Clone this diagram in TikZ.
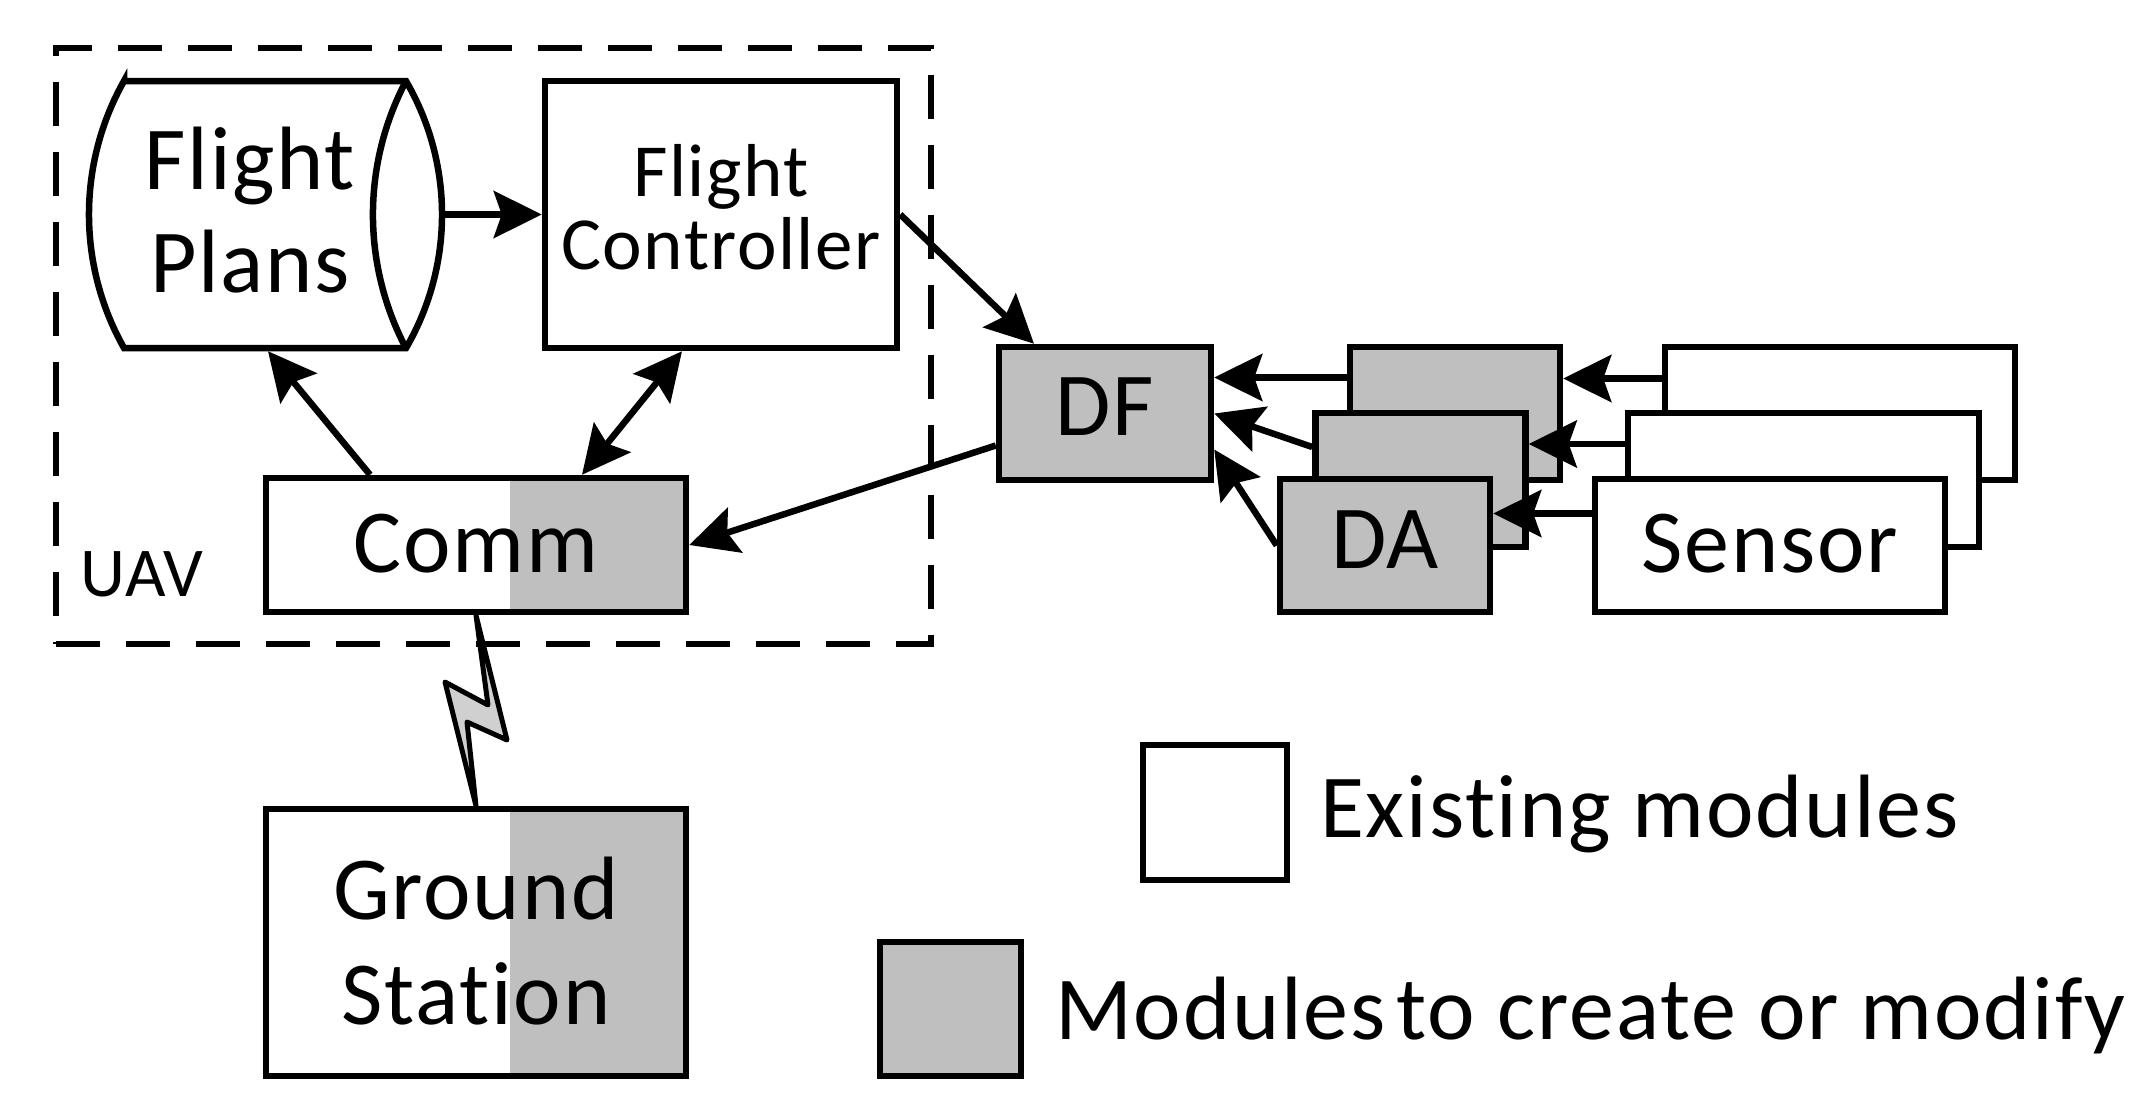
\documentclass[tikz,border=0pt]{standalone}
\usepackage{fontspec}
\setmainfont{Carlito}[Ligatures=NoCommon,LetterSpace=2]
\usetikzlibrary{arrows.meta,calc}
\definecolor{modgray}{RGB}{191,191,191}
\definecolor{boltgray}{RGB}{208,208,208}
\begin{document}
\begin{tikzpicture}[x=1pt,y=-1pt,
  every node/.style={inner sep=0pt},
  box/.style={draw,line width=6.5pt,fill=white,rectangle},
  graybox/.style={box,fill=modgray},
  halfgray/.style={path picture={\fill[modgray] ($(path picture bounding box.south west)!0.581!(path picture bounding box.south east)$) rectangle (path picture bounding box.north east);}},
  lbl/.style={anchor=base,font=\fontsize{90}{103}\selectfont},
  slbl/.style={anchor=base,font=\fontsize{75}{80}\selectfont},
  tip/.tip={Stealth[length=48pt,width=47pt,inset=8pt]},
  arr/.style={line width=6.5pt,-tip},
  darr/.style={line width=6.5pt,tip-tip}]
\useasboundingbox[fill=white] (0,0) rectangle (2145,1112);

% UAV frame
\node[draw,line width=6pt,dash pattern=on 44pt off 26pt,minimum width=875pt,minimum height=596pt] (uav) at (493.5,346) {};
\node[anchor=base west,font=\fontsize{70}{80}\selectfont] (uavtxt) at (80,596) {UAV};

% Flight plans (cylinder)
\node[minimum width=353pt,minimum height=267pt] (fp) at (265.5,214.5) {};
\draw[line width=6.5pt,fill=white,line join=miter]
  (124,81) -- (406,81) arc[start angle=30.2,end angle=-30.2,radius=265.5pt]
  -- (124,348) arc[start angle=209.4,end angle=150.6,radius=272pt] -- cycle;
\draw[line width=6.5pt] (406,81) arc[start angle=152.2,end angle=207.8,radius=286.5pt];
\node[lbl] (fptxt1) at (250,189) {Flight};
\node[lbl] (fptxt2) at (250,292) {Plans};

% Flight controller
\node[box,minimum width=352pt,minimum height=267pt] (fc) at (721,214.5) {};
\node[slbl] (fctxt1) at (721,196) {Flight};
\node[slbl] (fctxt2) at (721,269) {Controller};

% Comm
\node[box,halfgray,minimum width=420pt,minimum height=134pt] (comm) at (476,545) {};
\node[lbl] (commtxt) at (476,572) {Comm};

% Ground station
\node[box,halfgray,minimum width=420pt,minimum height=267pt] (gs) at (476,942.5) {};
\node[lbl] (gstxt1) at (476,919) {Ground};
\node[lbl] (gstxt2) at (476,1024) {Station};

% DF
\node[graybox,minimum width=212pt,minimum height=133pt] (df) at (1105,413.5) {};
\node[lbl] (dftxt) at (1105,435) {DF};

% DA stack
\node[graybox,minimum width=210pt,minimum height=133pt] (db) at (1455,413.5) {};
\node[graybox,minimum width=210pt,minimum height=134pt] (dm) at (1420.5,480) {};
\node[graybox,minimum width=210pt,minimum height=133pt] (da) at (1385,545.5) {};
\node[lbl] (datxt) at (1385,568) {DA};

% Sensor stack
\node[box,minimum width=350pt,minimum height=133pt] (sb) at (1840,413.5) {};
\node[box,minimum width=351pt,minimum height=134pt] (sm) at (1803.5,480) {};
\node[box,minimum width=350pt,minimum height=133pt] (sf) at (1770,545.5) {};
\node[lbl] (sftxt) at (1770,572) {Sensor};

% connectors
\draw[arr] (fp.east) -- (fc.west);
\draw[arr] ([xshift=-106pt]comm.north) -- ([xshift=2.5pt,yshift=-3pt]fp.south);
\draw[darr] ([xshift=106pt]comm.north) -- ([xshift=-39pt]fc.south);
\draw[arr] (fc.east) -- ([xshift=-71pt]df.north);
\draw[arr] ([yshift=-32pt]df.west) -- (comm.east);
\draw[arr] ([yshift=36pt]db.west) -- ([yshift=36pt]df.east);
\draw[arr] ([yshift=33pt]dm.west) -- (df.east);
\draw[arr] (da.west) -- ([yshift=-36pt]df.east);
\draw[arr] ([yshift=35pt]sb.west) -- ([yshift=35pt]db.east);
\draw[arr] ([yshift=36pt]sm.west) -- ([yshift=36pt]dm.east);
\draw[arr] ([yshift=32pt]sf.west) -- ([yshift=32pt]da.east);

% radio link (lightning)
\coordinate (boltR) at (507,740);
\coordinate (boltN2) at (467,722);
\coordinate (boltL) at (445,682);
\coordinate (boltN1) at (488,705);
\draw[line width=5pt,fill=boltgray,line join=round] (comm.south) -- (boltR) -- (boltN2) -- (gs.north) -- (boltL) -- (boltN1) -- cycle;

% legend
\node[box,minimum width=144pt,minimum height=135pt] (lex) at (1215,812.5) {};
\node[lbl,anchor=base west] (lextxt) at (1320,837) {Existing modules};
\node[graybox,minimum width=141pt,minimum height=134pt] (lmod) at (950.5,1009) {};
\node[lbl,anchor=base west] (lmodtxt) at (1055,1039) {Modules\hspace{-0.12em} to create or modify};
\end{tikzpicture}
\end{document}
